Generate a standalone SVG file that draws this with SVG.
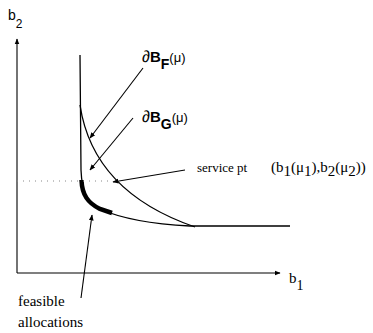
<svg xmlns="http://www.w3.org/2000/svg" width="373" height="333" viewBox="0 0 373 333">
<defs>
<marker id="ah" viewBox="0 0 10 10" refX="9" refY="5" markerWidth="6" markerHeight="6" orient="auto" markerUnits="userSpaceOnUse">
<path d="M0,1 L10,5 L0,9 Z" fill="#000"/>
</marker>
</defs>
<style>
.ln{fill:none;stroke:#000;stroke-width:1.3}
.ar{fill:none;stroke:#000;stroke-width:1.1;marker-end:url(#ah)}
.sans{font-family:"Liberation Sans",Arial,sans-serif;fill:#000}
.serif{font-family:"Liberation Serif","Times New Roman",serif;fill:#000}
</style>
<rect width="373" height="333" fill="#fff"/>
<g id="axes">
<path class="ar" d="M17,273 L17,39"/>
<path class="ar" d="M17,273 L280,273"/>
<text class="sans" x="8" y="20" font-size="14">b<tspan font-size="12" dy="8">2</tspan></text>
<text class="serif" x="289" y="283" font-size="15">b<tspan font-size="14" dy="7">1</tspan></text>
</g>
<g id="curves">
<path id="curveG" class="ln" d="M80,55 L81,170 C82,195 88,203 100,209 C120,218 150,224 190,226 L290,226"/>
<path id="curveF" class="ln" d="M80,105 C86,145 108,197 195,227"/>
<path id="feasible" d="M81.5,180 C82,195 88,203 100,209 L112,213" fill="none" stroke="#000" stroke-width="4.5"/>
<path id="dotted" d="M17,181 L110,181" fill="none" stroke="#888" stroke-width="1" stroke-dasharray="1,5"/>
</g>
<g id="connectors">
<path class="ar" d="M143,68 L90,138"/>
<path class="ar" d="M133,118 L90,170"/>
<path class="ar" d="M185,170 L113,182"/>
<path class="ar" d="M81,298 L92,215"/>
</g>
<g id="labelF">
<text class="sans" y="62"><tspan x="142" font-size="16">∂</tspan><tspan font-weight="bold" font-size="15">B</tspan><tspan font-weight="bold" font-size="14" dy="7">F</tspan><tspan font-size="13" dy="-7">(μ)</tspan></text>
</g>
<g id="labelG">
<text class="sans" y="122"><tspan x="142" font-size="16">∂</tspan><tspan font-weight="bold" font-size="15">B</tspan><tspan font-weight="bold" font-size="14" dy="7">G</tspan><tspan font-size="13" dy="-7">(μ)</tspan></text>
</g>
<g id="labelService">
<text class="serif" x="197" y="172" font-size="13">service pt<tspan x="271" font-size="15">(b</tspan><tspan dy="4" font-size="15">1</tspan><tspan dy="-4" font-size="15">(μ</tspan><tspan dy="4" font-size="15">1</tspan><tspan dy="-4" font-size="15">),b</tspan><tspan dy="4" font-size="15">2</tspan><tspan dy="-4" font-size="15">(μ</tspan><tspan dy="4" font-size="15">2</tspan><tspan dy="-4" font-size="15">))</tspan></text>
</g>
<g id="labelFeasible">
<text class="serif" x="18" y="306" font-size="15">feasible</text>
<text class="serif" x="18" y="327" font-size="15">allocations</text>
</g>
</svg>
